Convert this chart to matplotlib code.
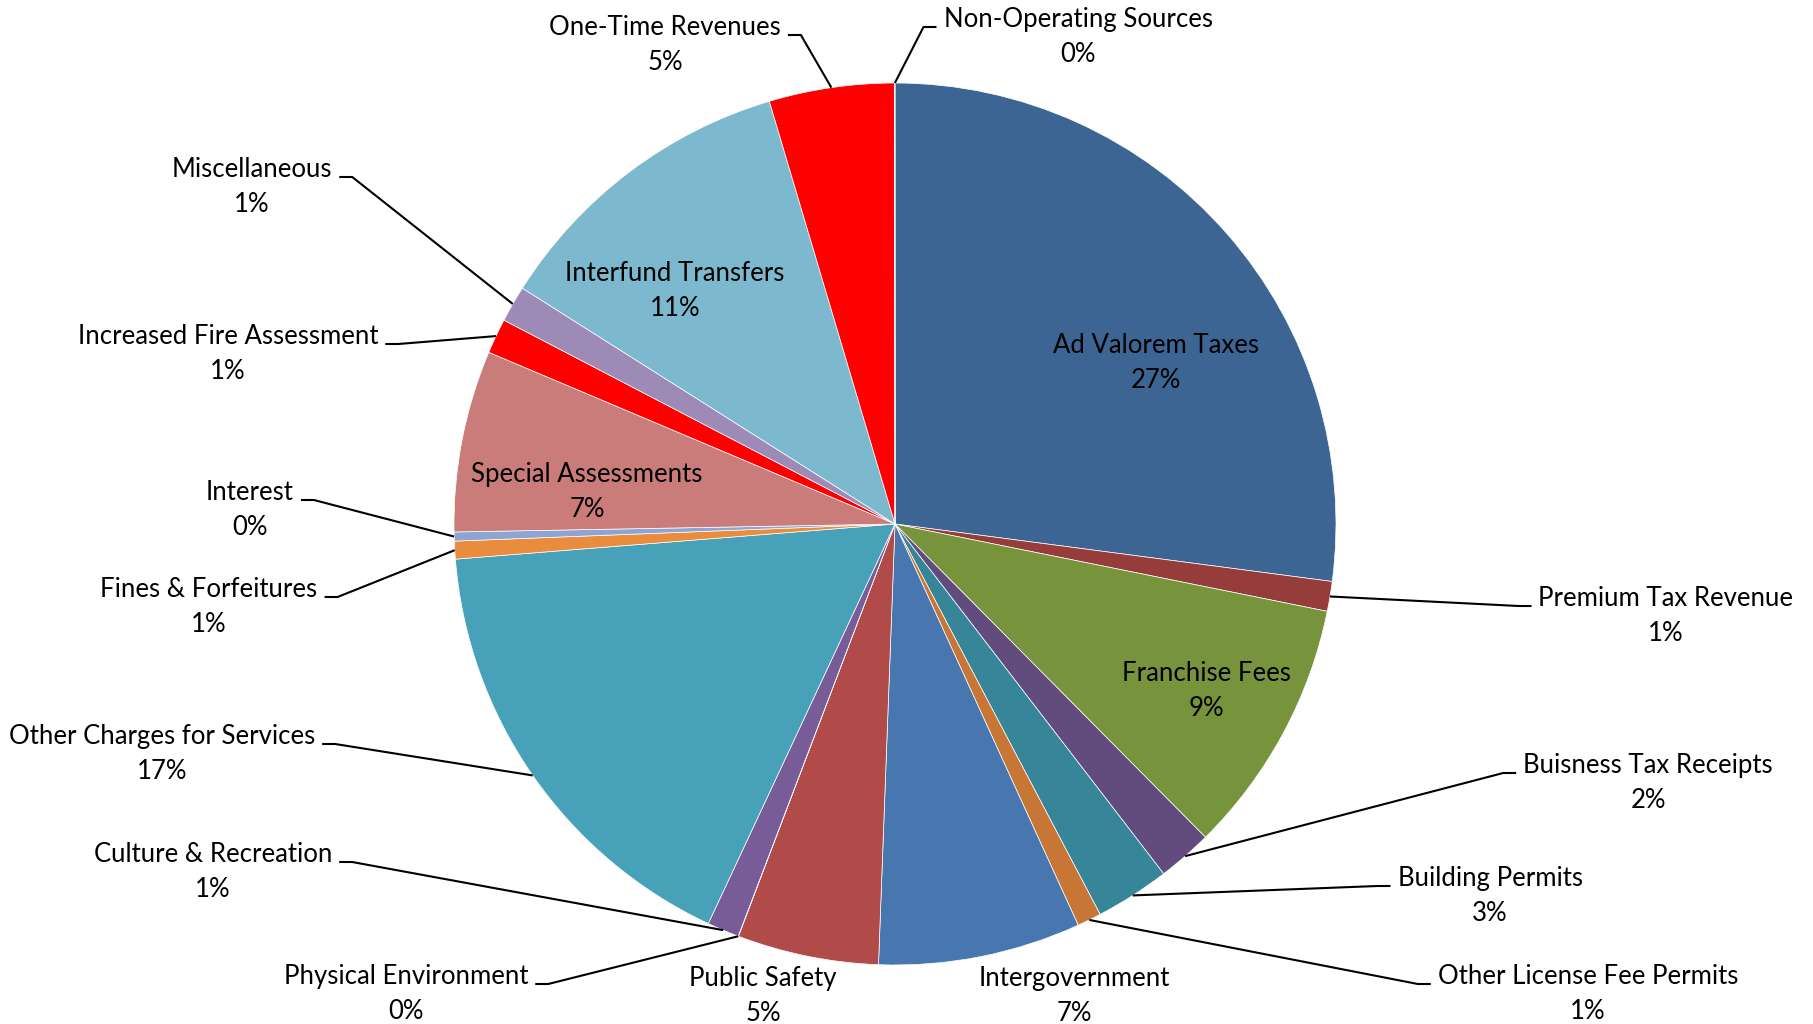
import matplotlib

matplotlib.use("Agg")
import matplotlib.pyplot as plt
import numpy as np


FIG_W, FIG_H = 1813, 1024
CENTER = (895, FIG_H - 524)
RADIUS = 441

FONT_FAMILY = ["Lato", "DejaVu Sans"]
FONT_SIZE = 18.5

CATEGORIES = [
    "Ad Valorem Taxes",
    "Premium Tax Revenue",
    "Franchise Fees",
    "Buisness Tax Receipts",
    "Building Permits",
    "Other License Fee Permits",
    "Intergovernment",
    "Public Safety",
    "Physical Environment",
    "Culture & Recreation",
    "Other Charges for Services",
    "Fines & Forfeitures",
    "Interest",
    "Special Assessments",
    "Increased Fire Assessment",
    "Miscellaneous",
    "Interfund Transfers",
    "One-Time Revenues",
    "Non-Operating Sources",
]

# share of total revenue, percent
SHARES = [
    27.03, 1.09, 9.38, 2.00, 2.72, 0.88, 7.40, 5.17, 0.01, 1.17,
    16.74, 0.65, 0.33, 6.64, 1.28, 1.33, 11.40, 4.58, 0.01,
]

COLORS = [
    "#3D6594", "#963C3A", "#77933C", "#624C7D", "#378599", "#C77635",
    "#4876AE", "#B14B49", "#8AA54C", "#775C97", "#47A1B9", "#EA8C3E",
    "#8EA5D3", "#C97C7A", "#FF0000", "#9E8AB6", "#7DB9CE", "#FF0000",
    "#FF9F52",
]

# label block centres (pixels from top-left) and which side of the text
# the leader line attaches to (None = no leader)
LABEL_LAYOUT = [
    ((1156, 363), None),
    ((1666, 616), "left"),
    ((1206, 691), None),
    ((1648, 783), "left"),
    ((1490, 896), "left"),
    ((1588, 994), "left"),
    ((1074, 996), None),
    ((763, 996), None),
    ((406, 994), "right"),
    ((213, 872), "right"),
    ((162, 754), "right"),
    ((209, 607), "right"),
    ((250, 510), "right"),
    ((587, 492), None),
    ((228, 354), "right"),
    ((252, 187), "right"),
    ((675, 291), None),
    ((665, 45), "right"),
    ((1078, 37), "left"),
]


def mid_angles(values):
    fracs = np.asarray(values, dtype=float) / np.sum(values)
    ends = np.cumsum(fracs) * 360.0
    starts = ends - fracs * 360.0
    # clockwise from 12 o'clock, converted to the usual math angle
    return 90.0 - (starts + ends) / 2.0


def main():
    fig = plt.figure(figsize=(FIG_W / 100, FIG_H / 100), dpi=100)
    ax = fig.add_axes([0, 0, 1, 1])

    ax.pie(
        SHARES,
        colors=COLORS,
        startangle=90,
        counterclock=False,
        center=CENTER,
        radius=RADIUS,
        wedgeprops={"edgecolor": "white", "linewidth": 0.5},
        frame=True,
    )
    ax.set_xlim(0, FIG_W)
    ax.set_ylim(0, FIG_H)
    ax.set_aspect("equal")
    ax.axis("off")

    total = float(np.sum(SHARES))
    texts = []
    for name, value, ((px, py), side) in zip(CATEGORIES, SHARES, LABEL_LAYOUT):
        pct = value / total * 100
        t = ax.text(
            px,
            FIG_H - py,
            f"{name}\n{pct:.0f}%",
            ha="center",
            va="center",
            multialignment="center",
            fontsize=FONT_SIZE,
            family=FONT_FAMILY,
            color="black",
            linespacing=1.54,
        )
        texts.append(t)

    fig.canvas.draw()
    renderer = fig.canvas.get_renderer()
    angles = mid_angles(SHARES)
    for t, angle, ((px, py), side) in zip(texts, angles, LABEL_LAYOUT):
        if side is None:
            continue
        bb = t.get_window_extent(renderer=renderer)
        rad = np.deg2rad(angle)
        x0 = CENTER[0] + RADIUS * np.cos(rad)
        y0 = CENTER[1] + RADIUS * np.sin(rad)
        ty = FIG_H - py + 10
        if side == "right":
            xs = [x0, bb.x1 + 20, bb.x1 + 7]
        else:
            xs = [x0, bb.x0 - 20, bb.x0 - 7]
        ax.plot(xs, [y0, ty, ty], color="black", lw=1.5, solid_capstyle="butt", zorder=3)

    fig.savefig("out.png", dpi=100, facecolor="white")


if __name__ == "__main__":
    main()
